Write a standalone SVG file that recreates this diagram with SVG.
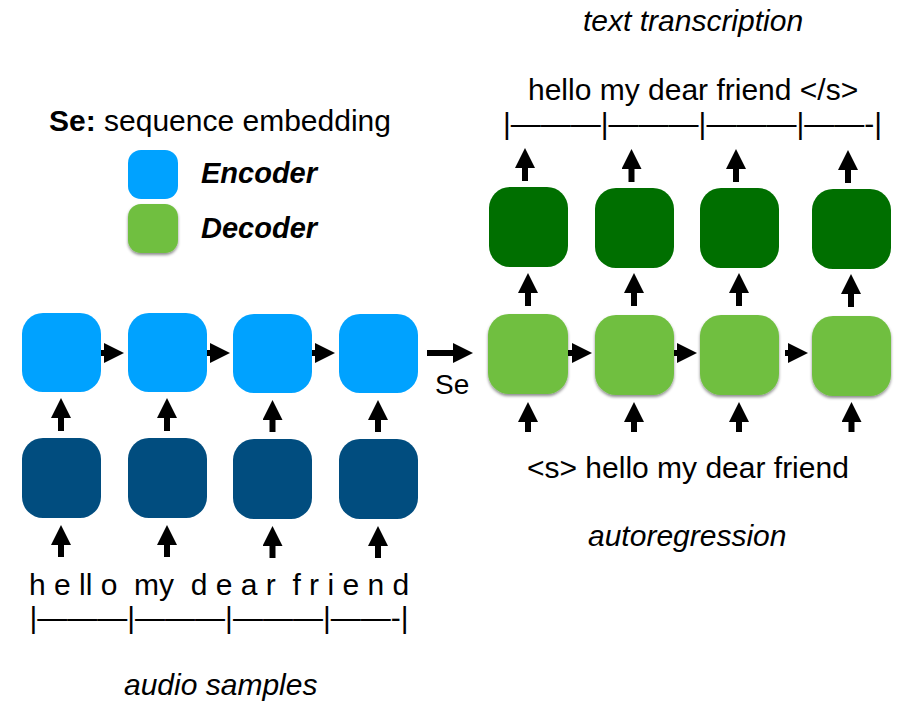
<svg xmlns="http://www.w3.org/2000/svg" width="912" height="708" viewBox="0 0 912 708">
<style>
  text { font-family: "Liberation Sans", Arial, sans-serif; font-size: 30px; fill: #000; white-space: pre; }
  .it { font-style: italic; }
  .bi { font-style: italic; font-weight: bold; font-size: 29px; }
  .enc { fill: #00A2FF; }
  .inp { fill: #014D7F; }
  .dec { fill: #70BF41; }
  .out { fill: #006F00; }
  .arr { stroke: #000; stroke-width: 6; fill: none; marker-end: url(#head); }
</style>
<defs>
  <marker id="head" viewBox="0 0 20 20" refX="2" refY="10" markerWidth="20" markerHeight="20" markerUnits="userSpaceOnUse" orient="auto">
    <path d="M0,0 L20,10 L0,20 Z" fill="#000"/>
  </marker>
  <filter id="shadow" x="-20%" y="-20%" width="140%" height="150%">
    <feDropShadow dx="0" dy="2" stdDeviation="1.5" flood-color="#000" flood-opacity="0.45"/>
  </filter>
</defs>

<g id="labels">
  <text class="it" x="583" y="31">text transcription</text>
  <text x="528" y="100">hello my dear friend &lt;/s&gt;</text>
  <text x="503" y="134">|———|———|———|——-|</text>
  <text x="527" y="478">&lt;s&gt; hello my dear friend</text>
  <text class="it" x="588" y="546">autoregression</text>
  <text x="29" y="595">h e ll o  my  d e a r  f r i e n d</text>
  <text x="29.5" y="628">|———|———|———|——-|</text>
  <text class="it" x="124" y="695">audio samples</text>
</g>

<g id="legend">
  <text x="49" y="131"><tspan font-weight="bold">Se:</tspan> sequence embedding</text>
  <rect class="enc" x="128" y="150" width="50" height="49" rx="13"/>
  <text class="bi" x="201" y="183">Encoder</text>
  <rect class="dec" x="128" y="204" width="50" height="49" rx="13" filter="url(#shadow)"/>
  <text class="bi" x="201" y="238">Decoder</text>
</g>

<g id="connectors">
  <!-- input arrows into dark blue -->
  <line class="arr" x1="61" y1="557" x2="61" y2="543"/>
  <line class="arr" x1="167" y1="557" x2="167" y2="543"/>
  <line class="arr" x1="272.5" y1="558" x2="272.5" y2="544"/>
  <line class="arr" x1="378" y1="558" x2="378" y2="544"/>
  <!-- dark blue to encoder -->
  <line class="arr" x1="61" y1="431" x2="61" y2="416"/>
  <line class="arr" x1="167" y1="431" x2="167" y2="416"/>
  <line class="arr" x1="272.5" y1="432" x2="272.5" y2="418"/>
  <line class="arr" x1="378" y1="432" x2="378" y2="418"/>
  <!-- encoder chain -->
  <line class="arr" x1="100" y1="353" x2="106" y2="353"/>
  <line class="arr" x1="206" y1="353" x2="212" y2="353"/>
  <line class="arr" x1="311" y1="353" x2="317" y2="353"/>
  <!-- Se -->
  <line class="arr" x1="427" y1="353" x2="455" y2="353"/>
  <!-- decoder chain -->
  <line class="arr" x1="567" y1="353" x2="574" y2="353"/>
  <line class="arr" x1="673" y1="353" x2="679" y2="353"/>
  <line class="arr" x1="785" y1="353" x2="790" y2="353"/>
  <!-- inputs into decoder -->
  <line class="arr" x1="528" y1="432" x2="528" y2="420"/>
  <line class="arr" x1="634" y1="432" x2="634" y2="420"/>
  <line class="arr" x1="739" y1="432" x2="739" y2="420"/>
  <line class="arr" x1="851.5" y1="432" x2="851.5" y2="420"/>
  <!-- decoder to output -->
  <line class="arr" x1="528" y1="306" x2="528" y2="291"/>
  <line class="arr" x1="634" y1="306" x2="634" y2="291"/>
  <line class="arr" x1="739" y1="306" x2="739" y2="291"/>
  <line class="arr" x1="851" y1="307" x2="851" y2="292"/>
  <!-- output to text -->
  <line class="arr" x1="525" y1="181" x2="525" y2="166"/>
  <line class="arr" x1="631.5" y1="182" x2="631.5" y2="167"/>
  <line class="arr" x1="736" y1="182" x2="736" y2="167"/>
  <line class="arr" x1="848" y1="183" x2="848" y2="168"/>
</g>

<g id="input1"><rect class="inp" x="22" y="438" width="79" height="80" rx="21"/></g>
<g id="input2"><rect class="inp" x="128" y="438" width="79" height="80" rx="21"/></g>
<g id="input3"><rect class="inp" x="233" y="439" width="79" height="80" rx="21"/></g>
<g id="input4"><rect class="inp" x="339" y="439" width="79" height="80" rx="21"/></g>

<g id="encoder1"><rect class="enc" x="22" y="313" width="79" height="79" rx="21"/></g>
<g id="encoder2"><rect class="enc" x="128" y="313" width="79" height="79" rx="21"/></g>
<g id="encoder3"><rect class="enc" x="233" y="314" width="79" height="79" rx="21"/></g>
<g id="encoder4"><rect class="enc" x="339" y="314" width="79" height="79" rx="21"/></g>

<g id="decoder1"><rect class="dec" x="488" y="314" width="80" height="80" rx="21" filter="url(#shadow)"/></g>
<g id="decoder2"><rect class="dec" x="595" y="315" width="79" height="80" rx="21" filter="url(#shadow)"/></g>
<g id="decoder3"><rect class="dec" x="700" y="315" width="79" height="80" rx="21" filter="url(#shadow)"/></g>
<g id="decoder4"><rect class="dec" x="812" y="316" width="79" height="80" rx="21" filter="url(#shadow)"/></g>

<g id="output1"><rect class="out" x="489" y="187" width="79" height="80" rx="21"/></g>
<g id="output2"><rect class="out" x="595" y="188" width="79" height="80" rx="21"/></g>
<g id="output3"><rect class="out" x="700" y="188" width="79" height="80" rx="21"/></g>
<g id="output4"><rect class="out" x="812" y="189" width="79" height="80" rx="21"/></g>

<g id="se-label"><text x="435" y="394" font-size="28" style="font-size:28px">Se</text></g>
</svg>
